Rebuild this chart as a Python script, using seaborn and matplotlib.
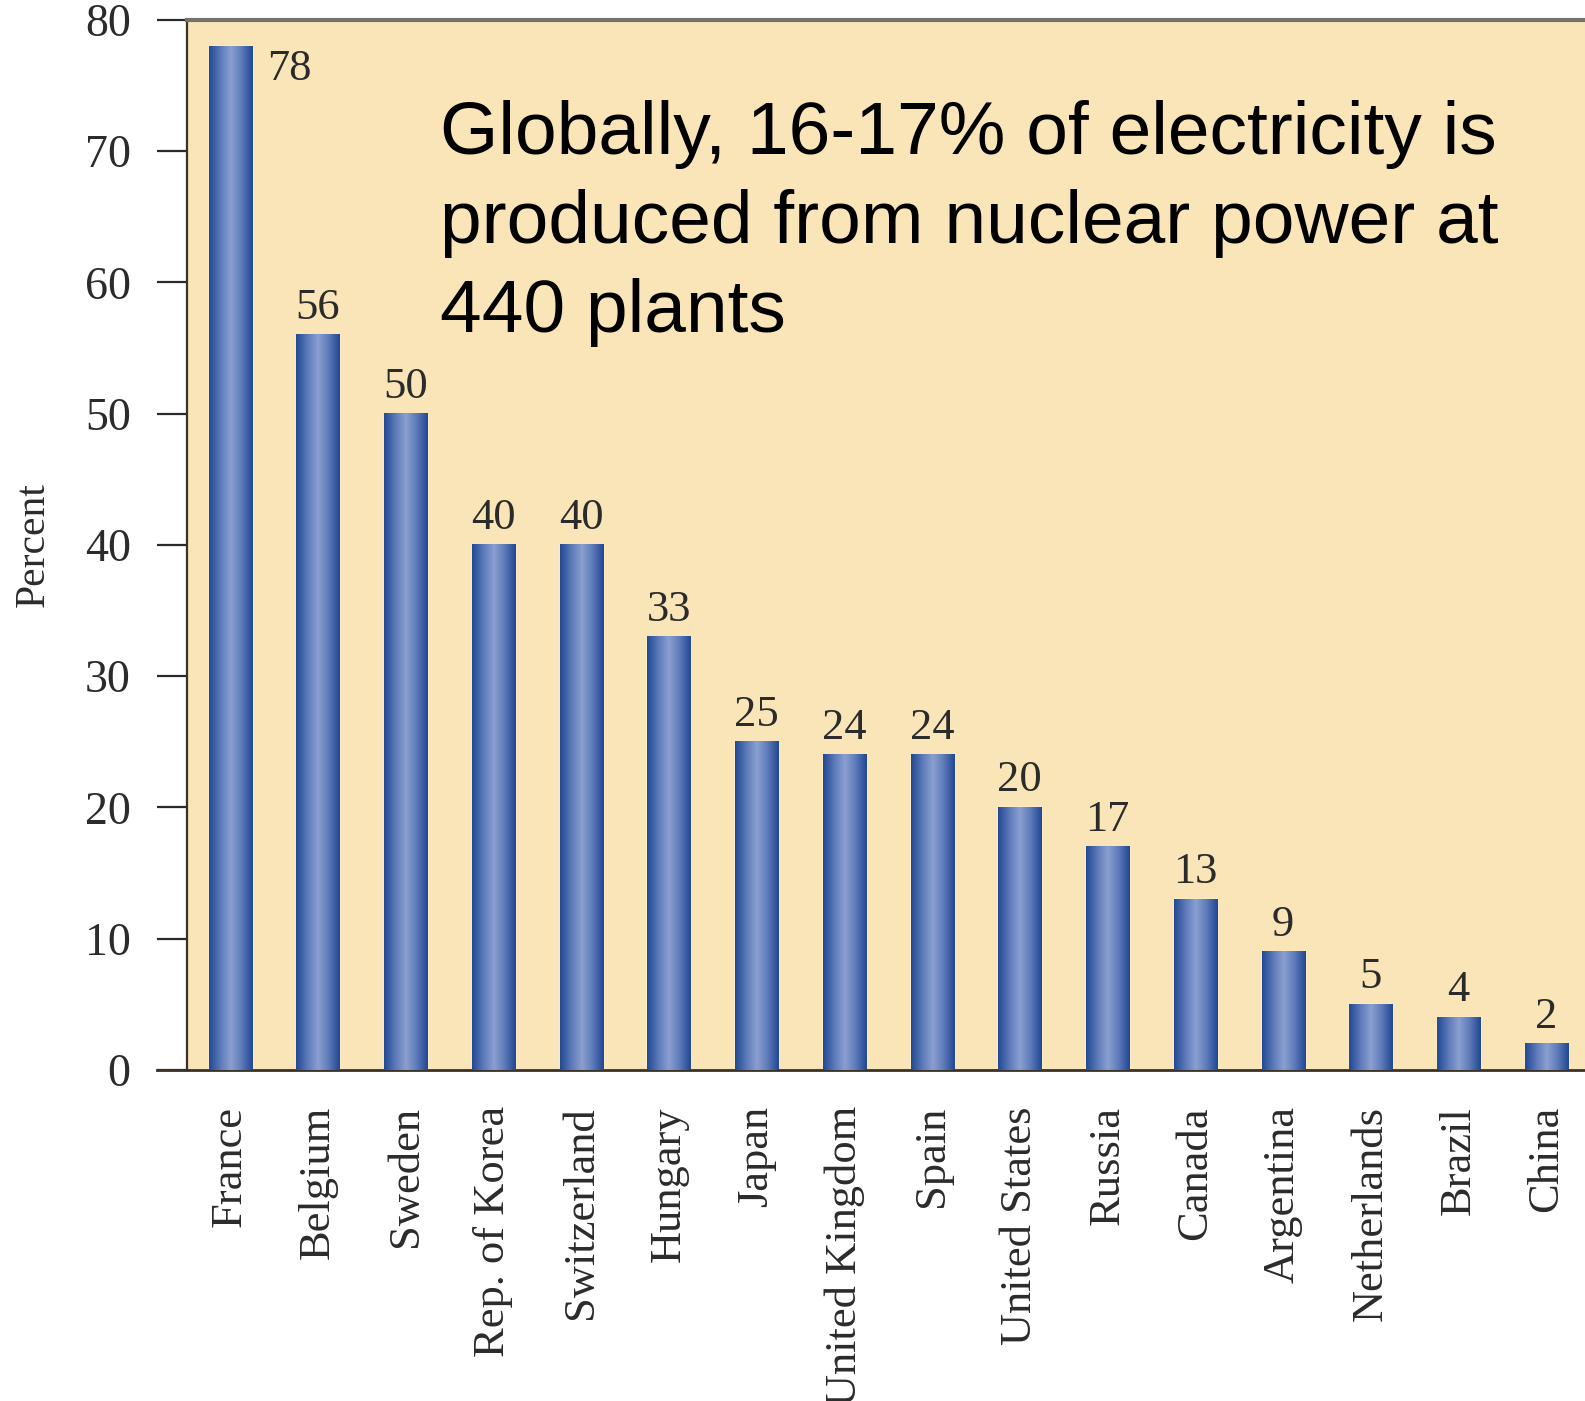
import numpy as np
import pandas as pd
import seaborn as sns
import matplotlib.pyplot as plt
from matplotlib.colors import LinearSegmentedColormap

# Share of electricity from nuclear power, by country
countries = ['France', 'Belgium', 'Sweden', 'Rep. of Korea', 'Switzerland',
             'Hungary', 'Japan', 'United Kingdom', 'Spain', 'United States',
             'Russia', 'Canada', 'Argentina', 'Netherlands', 'Brazil', 'China']
percent = [78, 56, 50, 40, 40, 33, 25, 24, 24, 20, 17, 13, 9, 5, 4, 2]
y_ticks = [0, 10, 20, 30, 40, 50, 60, 70, 80]
note = 'Globally, 16-17% of electricity is\nproduced from nuclear power at\n440 plants'

df = pd.DataFrame({'Country': countries, 'Percent': percent})

sns.set_theme(style='ticks')
plt.rcParams['font.family'] = ['Liberation Serif', 'DejaVu Serif']

fig = plt.figure(figsize=(15.85, 14.01), dpi=100)
ax = fig.add_axes([0.118, 0.2363, 0.882, 0.7495])
ax.set_facecolor('#f9e5b8')

sns.barplot(data=df, x='Country', y='Percent', color='#2f5599',
            saturation=1, width=0.49, ax=ax)

# shaded (cylinder-like) fill on each bar
shade = LinearSegmentedColormap.from_list(
    'bar', ['#224a94', '#5b78b8', '#8ba0d0', '#5d7ab9', '#214892'])
grad = np.linspace(0, 1, 64).reshape(1, -1)
for p in ax.patches:
    x0, w, h = p.get_x(), p.get_width(), p.get_height()
    ax.imshow(grad, cmap=shade, aspect='auto', zorder=3,
              extent=[x0, x0 + w, 0, h], interpolation='bicubic')

labels = [''] + [str(v) for v in percent[1:]]
ax.bar_label(ax.containers[0], labels=labels, padding=5,
             fontsize=32, color='#2b2b2b', zorder=4)
first = ax.patches[0]
ax.annotate(str(percent[0]), xy=(first.get_x() + first.get_width(), percent[0]),
            xytext=(11, -2), textcoords='offset points', ha='left', va='top',
            fontsize=32, color='#2b2b2b')

ax.set_xlim(-0.49, len(countries) - 0.56)
ax.set_ylim(0, 80)
ax.set_yticks(y_ticks)
ax.tick_params(axis='y', direction='out', length=21.6, width=1.6,
               pad=19, labelsize=33, colors='#2b2b2b')
ax.tick_params(axis='x', length=0, pad=26, labelsize=32,
               labelrotation=90, colors='#2b2b2b')
ax.set_xlabel('')
ax.set_ylabel('Percent', fontsize=30, color='#2b2b2b')
ax.yaxis.set_label_coords(-0.096, 0.5)

ax.spines['right'].set_visible(False)
ax.spines['top'].set_color('#75746a')
ax.spines['top'].set_linewidth(3)
ax.spines['left'].set_color('#3a3226')
ax.spines['left'].set_linewidth(1.6)
ax.spines['bottom'].set_color('#3a3226')
ax.spines['bottom'].set_linewidth(2)
ax.spines['bottom'].set_bounds(-0.49 - 30 / 87.7, len(countries))
ax.spines['bottom'].set_clip_on(False)

ax.text(440 / 1585, 1 - 100 / 1401, note, transform=fig.transFigure,
        family=['Liberation Sans', 'DejaVu Sans'], fontsize=54,
        ha='left', va='top', linespacing=1.37, color='black', zorder=5)

fig.savefig('out.png', dpi=100)
